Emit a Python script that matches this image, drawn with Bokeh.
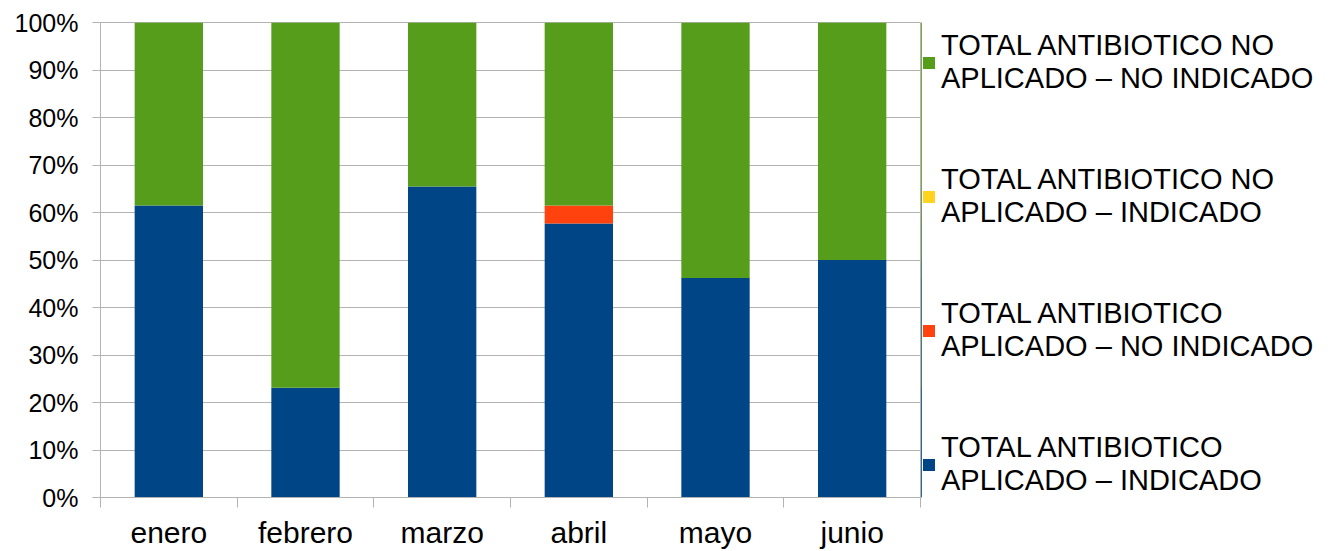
from bokeh.plotting import figure
from bokeh.layouts import row
from bokeh.models import (ColumnDataSource, FixedTicker, NumeralTickFormatter, Legend,
                          LegendItem, Range1d)
from bokeh.embed import file_html
from bokeh.resources import INLINE

months = ["enero", "febrero", "marzo", "abril", "mayo", "junio"]
aplicado_indicado = [0.615, 0.231, 0.655, 0.577, 0.462, 0.500]
aplicado_no_indicado = [0.0, 0.0, 0.0, 0.038, 0.0, 0.0]
no_aplicado_indicado = [0.0, 0.0, 0.0, 0.0, 0.0, 0.0]
no_aplicado_no_indicado = [round(1 - a - b - c, 3) for a, b, c in
                           zip(aplicado_indicado, aplicado_no_indicado, no_aplicado_indicado)]

series_names = ["TOTAL ANTIBIOTICO\nAPLICADO – INDICADO",
                "TOTAL ANTIBIOTICO\nAPLICADO – NO INDICADO",
                "TOTAL ANTIBIOTICO NO\nAPLICADO – INDICADO",
                "TOTAL ANTIBIOTICO NO\nAPLICADO – NO INDICADO"]
series_keys = ["ai", "ani", "nai", "nani"]
colors = ["#004586", "#ff420e", "#ffd320", "#579d1c"]

xpos = [i + 0.5 for i in range(len(months))]
src = ColumnDataSource(dict(x=xpos, ai=aplicado_indicado, ani=aplicado_no_indicado,
                            nai=no_aplicado_indicado, nani=no_aplicado_no_indicado))

FONT = "Liberation Sans"
grid_color = "#b3b3b3"
TOP, BOTTOM = 22, 54

# main chart
p = figure(width=921, height=551, output_backend="svg", toolbar_location=None,
           x_range=Range1d(0, len(months)), y_range=Range1d(0, 1),
           min_border_left=100, min_border_right=1, min_border_top=TOP, min_border_bottom=BOTTOM)

p.vbar_stack(series_keys, x="x", width=0.5, source=src, color=colors, line_color=None)

p.xgrid.visible = False
p.ygrid.grid_line_color = grid_color
p.ygrid.ticker = FixedTicker(ticks=[i / 10 for i in range(11)])
p.outline_line_color = grid_color

p.yaxis.ticker = FixedTicker(ticks=[i / 10 for i in range(11)])
p.yaxis.formatter = NumeralTickFormatter(format="0%")
p.yaxis.axis_line_color = grid_color
p.yaxis.major_tick_line_color = grid_color
p.yaxis.major_tick_out = 8
p.yaxis.major_tick_in = 0
p.yaxis.minor_tick_line_color = None
p.yaxis.major_label_standoff = 14
p.yaxis.major_label_text_font = FONT
p.yaxis.major_label_text_font_size = "25px"
p.yaxis.major_label_text_color = "black"

p.xaxis.ticker = FixedTicker(ticks=xpos, minor_ticks=list(range(len(months) + 1)))
p.xaxis.major_label_overrides = {x: m for x, m in zip(xpos, months)}
p.xaxis.axis_line_color = grid_color
p.xaxis.major_tick_out = 0
p.xaxis.major_tick_in = 0
p.xaxis.minor_tick_out = 10
p.xaxis.minor_tick_in = 0
p.xaxis.minor_tick_line_color = grid_color
p.xaxis.major_label_standoff = 8
p.xaxis.major_label_text_font = FONT
p.xaxis.major_label_text_font_size = "30px"
p.xaxis.major_label_text_line_height = 1.0
p.xaxis.major_label_text_color = "black"

# legend panel (same series, bars kept out of its visible range)
pl = figure(width=420, height=551, output_backend="svg", toolbar_location=None,
            x_range=Range1d(100, 101), y_range=Range1d(0, 1),
            x_axis_location=None, y_axis_location=None,
            min_border_left=0, min_border_right=0, min_border_top=TOP, min_border_bottom=BOTTOM)
pl.grid.visible = False
pl.outline_line_color = None
leg_renderers = pl.vbar_stack(series_keys, x="x", width=0.5, source=src, color=colors,
                              line_color=None)

items = [LegendItem(label=series_names[i], renderers=[leg_renderers[i]]) for i in [3, 2, 1, 0]]
legend = Legend(items=items, location=(0, 0), padding=0, margin=0,
                glyph_width=15, glyph_height=15, label_standoff=5, spacing=68,
                label_text_font=FONT, label_text_font_size="29px",
                label_text_line_height=1.15, label_text_color="black",
                background_fill_alpha=0, border_line_alpha=0)
pl.add_layout(legend, "center")

layout = row(p, pl)
open("out.html", "w").write(file_html(layout, INLINE))
